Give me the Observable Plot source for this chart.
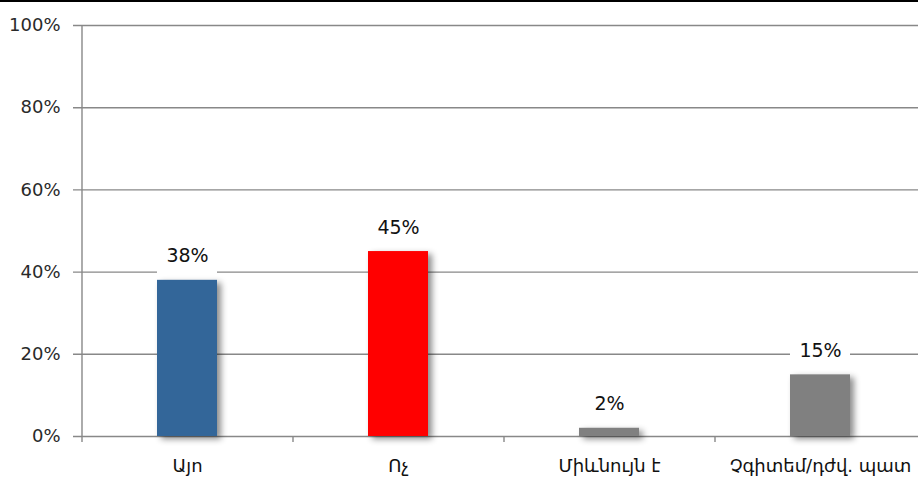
<!DOCTYPE html>
<html>
<head>
<meta charset="utf-8">
<script src="https://cdn.jsdelivr.net/npm/d3@7"></script>
<script src="https://cdn.jsdelivr.net/npm/@observablehq/plot@0.6"></script>
<style>
  html, body { margin: 0; padding: 0; background: #fff; overflow: hidden; }
  #chart { border-top: 2px solid #000; width: 918px; }
  #chart svg { display: block; }
</style>
</head>
<body>
<div id="chart"></div>
<script>
const categories = ["Այո", "Ոչ", "Միևնույն է", "Չգիտեմ/դժվ. պատ"];
const values = [38, 45, 2, 15];
const colors = ["#336699", "#ff0000", "#808080", "#808080"];
const yTicks = [0, 20, 40, 60, 80, 100];
const yTickLabels = ["0%", "20%", "40%", "60%", "80%", "100%"];

const data = categories.map((c, i) => ({cat: c, value: values[i], color: colors[i], label: values[i] + "%"}));
const ticks = yTicks.map((t, i) => ({t, label: yTickLabels[i]}));

const font = "'DejaVu Sans', sans-serif";
const gridColor = "#888888";

const chart = Plot.plot({
  width: 918,
  height: 476,
  marginLeft: 82,
  marginRight: -8,
  marginTop: 23,
  marginBottom: 42,
  style: {fontFamily: font, fontSize: "18px", color: "#222", background: "#fff"},
  x: {domain: categories, paddingInner: 0.715, paddingOuter: 0.3575, axis: null},
  y: {domain: [0, 100], axis: null},
  marks: [
    // gridlines with left tick stubs
    Plot.ruleY(ticks, {y: "t", stroke: gridColor, strokeWidth: 1.4, insetLeft: -9}),
    // y axis line
    Plot.ruleX([categories[0]], {x: d => d, dx: -105.5, y1: 0, y2: 100, stroke: gridColor, strokeWidth: 1.4}),
    // x axis ticks at band boundaries
    Plot.ruleX(categories, {x: d => d, dx: -105.5, y1: 0, y2: 0, insetBottom: -6, stroke: gridColor, strokeWidth: 1.4}),
    // y tick labels
    Plot.text(ticks, {y: "t", text: "label", frameAnchor: "left", dx: -22, textAnchor: "end", fill: "#2a2a2a", fontSize: 18}),
    // bars
    Plot.barY(data, {x: "cat", y: "value", fill: "color"}),
    // white boxes behind value labels
    Plot.barY(data, {x: "cat", y1: "value", y2: "value", insetTop: -36, insetBottom: 6, fill: "white"}),
    // value labels
    Plot.text(data, {x: "cat", y: "value", text: "label", dy: -24, fill: "#111", fontSize: 19}),
    // category labels
    Plot.text(data, {x: "cat", y: 0, text: "cat", dy: 30, fill: "#111", fontSize: 18})
  ]
});

// soft drop shadow on the data bars (first bar mark)
const barGroups = chart.querySelectorAll('g[aria-label="bar"]');
if (barGroups.length) barGroups[0].style.filter = "drop-shadow(4px 3px 3px rgba(0,0,0,0.45))";

document.getElementById("chart").appendChild(chart);
</script>
</body>
</html>
